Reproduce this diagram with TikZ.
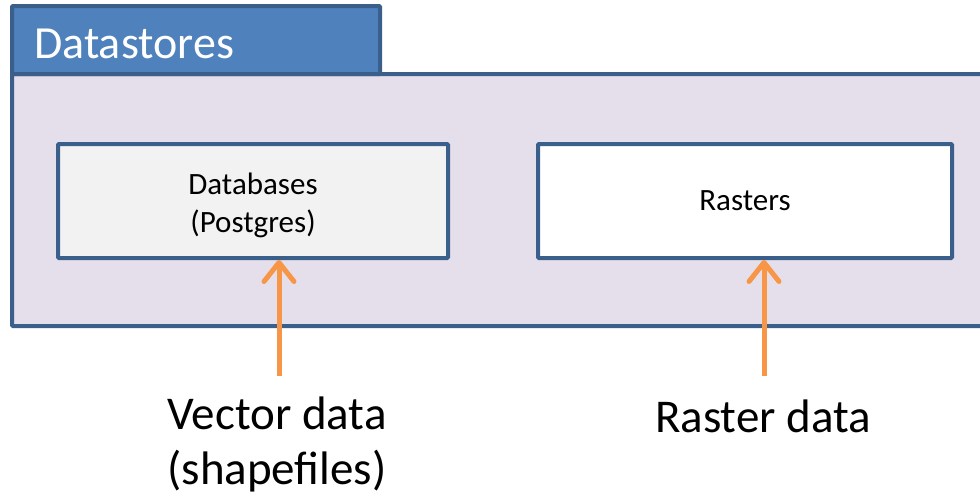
\documentclass[tikz,border=0pt]{standalone}
\usepackage{fontspec}
\setmainfont{Carlito}
\usetikzlibrary{arrows.meta}
\definecolor{frame}{HTML}{3A5F8B}
\definecolor{tabfill}{HTML}{4F81BD}
\definecolor{bodyfill}{HTML}{E5DFEC}
\definecolor{dbfill}{HTML}{F2F2F2}
\definecolor{arr}{HTML}{F79646}
\tikzset{
  box/.style={draw=frame, line width=4pt, rounded corners=1pt},
  store/.style={box, minimum width=390pt, minimum height=114pt, align=center, font=\fontsize{31}{38}\selectfont, inner sep=0pt},
  feed/.style={draw=arr, line width=5pt, -{Straight Barb[length=19pt,width=30pt,round]}},
  caption/.style={font=\fontsize{47}{55}\selectfont, align=center, text=black}
}
\begin{document}
\begin{tikzpicture}[x=1pt,y=-1pt]
\useasboundingbox (0,0) rectangle (980,496);
\clip (0,0) rectangle (980,496);
\fill[white] (0,0) rectangle (980,496);
\draw[box, fill=bodyfill] (12,74) rectangle (1000,326);
\draw[box, fill=tabfill] (12,6) rectangle (380,74);
\node[anchor=base west, text=white, font=\fontsize{46}{50}\selectfont, inner sep=0pt] (title) at (34,58) {Datastores};
\node[store, fill=dbfill, minimum width=390pt] (db) at (253,201) {\rule{0pt}{30pt}Databases\\(Postgres)};
\node[store, fill=white, minimum width=414pt] (ras) at (745,201) {Rasters};
\node[caption] (vec) at (277,444) {Vector data\\(shapefiles)};
\node[caption] (rd) at (763,416) {Raster data};
\coordinate (vs) at (279,376);
\coordinate (rs) at (764,376);
\draw[feed] (vs) -- (db.south -| vs);
\draw[feed] (rs) -- (ras.south -| rs);
\end{tikzpicture}
\end{document}
